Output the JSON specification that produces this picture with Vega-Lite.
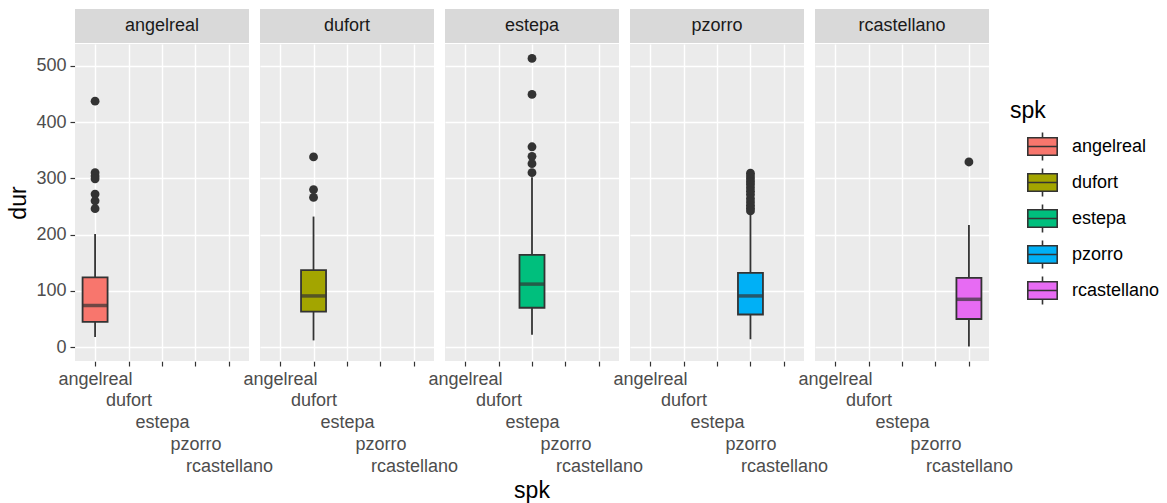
{
  "$schema": "https://vega.github.io/schema/vega-lite/v6.json",
  "background": "white",
  "padding": {"top": 9, "left": 7, "right": 5, "bottom": 2},
  "data": {"values": [
    {"kind": "box", "spk": "angelreal", "lower": 18, "q1": 45, "median": 74, "q3": 124, "upper": 201},
    {"kind": "box", "spk": "dufort", "lower": 12, "q1": 63, "median": 91, "q3": 137, "upper": 232},
    {"kind": "box", "spk": "estepa", "lower": 22, "q1": 70, "median": 112, "q3": 164, "upper": 302},
    {"kind": "box", "spk": "pzorro", "lower": 14, "q1": 58, "median": 91, "q3": 132, "upper": 237},
    {"kind": "box", "spk": "rcastellano", "lower": 1, "q1": 50, "median": 85, "q3": 123, "upper": 217},
    {"kind": "out", "spk": "angelreal", "dur": 437},
    {"kind": "out", "spk": "angelreal", "dur": 310},
    {"kind": "out", "spk": "angelreal", "dur": 304},
    {"kind": "out", "spk": "angelreal", "dur": 299},
    {"kind": "out", "spk": "angelreal", "dur": 272},
    {"kind": "out", "spk": "angelreal", "dur": 260},
    {"kind": "out", "spk": "angelreal", "dur": 246},
    {"kind": "out", "spk": "dufort", "dur": 338},
    {"kind": "out", "spk": "dufort", "dur": 280},
    {"kind": "out", "spk": "dufort", "dur": 266},
    {"kind": "out", "spk": "estepa", "dur": 513},
    {"kind": "out", "spk": "estepa", "dur": 449},
    {"kind": "out", "spk": "estepa", "dur": 356},
    {"kind": "out", "spk": "estepa", "dur": 339},
    {"kind": "out", "spk": "estepa", "dur": 326},
    {"kind": "out", "spk": "estepa", "dur": 310},
    {"kind": "out", "spk": "pzorro", "dur": 309},
    {"kind": "out", "spk": "pzorro", "dur": 304},
    {"kind": "out", "spk": "pzorro", "dur": 299},
    {"kind": "out", "spk": "pzorro", "dur": 294},
    {"kind": "out", "spk": "pzorro", "dur": 289},
    {"kind": "out", "spk": "pzorro", "dur": 283},
    {"kind": "out", "spk": "pzorro", "dur": 277},
    {"kind": "out", "spk": "pzorro", "dur": 271},
    {"kind": "out", "spk": "pzorro", "dur": 264},
    {"kind": "out", "spk": "pzorro", "dur": 258},
    {"kind": "out", "spk": "pzorro", "dur": 252},
    {"kind": "out", "spk": "pzorro", "dur": 247},
    {"kind": "out", "spk": "pzorro", "dur": 242},
    {"kind": "out", "spk": "rcastellano", "dur": 329}
  ]},
  "spacing": 1,
  "vconcat": [
    {
      "transform": [{"filter": "datum.kind === 'box'"}],
      "facet": {"column": {"field": "spk", "type": "nominal", "header": {"title": null, "labels": false}}},
      "spacing": 11,
      "spec": {
        "width": 174,
        "height": 34,
        "view": {"fill": "#D9D9D9", "stroke": null},
        "mark": {"type": "text", "fontSize": 18, "color": "#1A1A1A", "font": "Liberation Sans", "baseline": "middle", "align": "center"},
        "encoding": {"text": {"field": "spk", "type": "nominal"}}
      }
    },
    {
      "facet": {"column": {"field": "spk", "type": "nominal", "title": "spk",
        "header": {"labels": false, "titleOrient": "bottom", "titleFontSize": 23, "titleColor": "black", "titleFontWeight": "normal", "titleFont": "Liberation Sans", "titlePadding": -5}}},
      "spacing": 11,
      "spec": {
        "width": 174,
        "height": 317,
        "view": {"fill": "#EBEBEB", "stroke": null},
        "encoding": {
          "x": {"field": "spk", "type": "nominal",
            "scale": {"type": "point", "padding": 0.6, "domain": ["angelreal", "dufort", "estepa", "pzorro", "rcastellano"]},
            "axis": {"title": null, "labelAngle": 0, "domain": false, "tickSize": 5, "tickColor": "#333333", "tickWidth": 1.2,
              "grid": true, "gridColor": "white", "gridWidth": 1.4,
              "labelFontSize": 18, "labelColor": "#4D4D4D", "labelFont": "Liberation Sans",
              "labelPadding": {"condition": [
                {"test": "datum.value === 'dufort'", "value": 25.75},
                {"test": "datum.value === 'estepa'", "value": 47.5},
                {"test": "datum.value === 'pzorro'", "value": 69.25},
                {"test": "datum.value === 'rcastellano'", "value": 91}
              ], "value": 4},
              "labelAlign": "center", "labelBaseline": "top", "labelOverlap": false
            }
          }
        },
        "layer": [
          {
            "transform": [{"filter": "datum.kind === 'box'"}],
            "mark": {"type": "rule", "color": "#333333", "strokeWidth": 1.8},
            "encoding": {
              "y": {"field": "lower", "type": "quantitative", "title": "dur",
                "scale": {"domain": [-24.6, 538.6], "nice": false, "zero": false},
                "axis": {"values": [0, 50, 100, 150, 200, 250, 300, 350, 400, 450, 500],
                  "labelExpr": "datum.value % 100 === 0 ? datum.label : ''",
                  "domain": false, "tickSize": 5, "tickColor": "#333333", "tickWidth": 1.2,
                  "tickOpacity": {"condition": {"test": "datum.value % 100 !== 0", "value": 0}, "value": 1},
                  "grid": true, "gridColor": "white",
                  "gridWidth": {"condition": {"test": "datum.value % 100 !== 0", "value": 0.7}, "value": 1.4},
                  "labelFontSize": 18, "labelColor": "#4D4D4D", "labelFont": "Liberation Sans", "labelPadding": 4,
                  "titleFontSize": 23, "titleColor": "black", "titleFontWeight": "normal", "titleFont": "Liberation Sans", "titlePadding": 5}},
              "y2": {"field": "upper"}
            }
          },
          {
            "transform": [{"filter": "datum.kind === 'box'"}],
            "mark": {"type": "bar", "size": 25, "stroke": "#333333", "strokeWidth": 1.8},
            "encoding": {
              "y": {"field": "q1", "type": "quantitative"},
              "y2": {"field": "q3"},
              "fill": {"field": "spk", "type": "nominal",
                "scale": {"domain": ["angelreal", "dufort", "estepa", "pzorro", "rcastellano"], "range": ["#F8766D", "#A3A500", "#00BF7D", "#00B0F6", "#E76BF3"]},
                "legend": {"title": "spk", "orient": "none", "legendX": 935, "legendY": 91,
                  "symbolType": "M-1,-0.6H1V0.6H-1Z M-1,0H1 M0,-0.6V-0.95 M0,0.6V0.95",
                  "symbolSize": 864, "symbolStrokeColor": "#333333", "symbolStrokeWidth": 1.6, "symbolOffset": 17,
                  "labelFontSize": 18, "labelColor": "black", "labelFont": "Liberation Sans", "labelOffset": 14,
                  "titleFontSize": 23, "titleColor": "black", "titleFontWeight": "normal", "titleFont": "Liberation Sans", "titlePadding": 8,
                  "rowPadding": 1}}
            }
          },
          {
            "transform": [{"filter": "datum.kind === 'box'"}],
            "mark": {"type": "tick", "size": 25, "thickness": 3.5, "color": "#333333", "orient": "horizontal"},
            "encoding": {"y": {"field": "median", "type": "quantitative"}}
          },
          {
            "transform": [{"filter": "datum.kind === 'out'"}],
            "mark": {"type": "point", "filled": true, "color": "#333333", "opacity": 1, "size": 78},
            "encoding": {"y": {"field": "dur", "type": "quantitative"}}
          }
        ]
      }
    }
  ],
  "config": {
    "view": {"stroke": null},
    "font": "Liberation Sans"
  }
}
